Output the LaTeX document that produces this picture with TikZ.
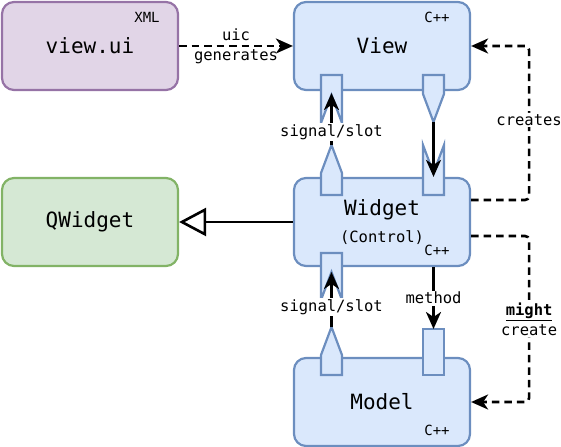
\documentclass[tikz,border=0pt]{standalone}
\usepackage{fontspec}
\setmonofont{DejaVu Sans Mono}
\usetikzlibrary{arrows.meta,calc}
\definecolor{qtBlueFill}{HTML}{DAE8FC}
\definecolor{qtBlueLine}{HTML}{6C8EBF}
\definecolor{uiFill}{HTML}{E1D5E7}
\definecolor{uiLine}{HTML}{9673A6}
\definecolor{baseFill}{HTML}{D5E8D4}
\definecolor{baseLine}{HTML}{82B366}
\tikzset{
  box/.style={draw, rounded corners=12bp, line width=2.2bp, minimum width=176bp,
    minimum height=88bp, inner sep=0pt, font=\ttfamily\fontsize{21bp}{25bp}\selectfont},
  cppbox/.style={box, fill=qtBlueFill, draw=qtBlueLine},
  xmlbox/.style={box, fill=uiFill, draw=uiLine},
  basebox/.style={box, fill=baseFill, draw=baseLine},
  bigtext/.style={inner sep=0pt, font=\ttfamily\fontsize{21bp}{25bp}\selectfont},
  tag/.style={inner sep=0pt, font=\ttfamily\fontsize{14bp}{16bp}\selectfont},
  edgelabel/.style={fill=white, inner sep=1.5bp, font=\ttfamily\fontsize{15.5bp}{20bp}\selectfont},
  port/.style={fill=qtBlueFill, draw=qtBlueLine, line width=2.2bp, line join=miter},
  conn/.style={line width=2.6bp, -{Stealth[length=17bp,width=15bp,inset=5bp]}},
  dashconn/.style={conn, dash pattern=on 7.5bp off 5bp, rounded corners=4bp},
  inherit/.style={line width=2.6bp, -{Triangle[open, fill=white, length=27bp, width=28bp]}}
}
\begin{document}
\begin{tikzpicture}[x=1bp, y=-1bp]
		%%%%% START %%%%%
		\useasboundingbox (0,0) rectangle (561,447);
		
		\node[xmlbox] (viewui) at (90,46) {view.ui};
		\node[cppbox] (view) at (382,46) {View};
		\node[basebox] (qwidget) at (90,222) {QWidget};
		\node[cppbox] (widget) at (382,222) {};
		\node[cppbox] (model) at (382,402) {Model};
		
		\node[tag] (viewuilang) at (147,17) {XML};
		\node[tag] (viewlang) at (437,17) {C++};
		\node[bigtext] (widgetname) at (382,210) {Widget};
		\node[edgelabel, fill=none, inner sep=0pt] (widgetrole) at (382,238) {(Control)};
		\node[tag] (widgetlang) at (437,250) {C++};
		\node[tag] (modellang) at (437,430) {C++};
		
		% ports
		\draw[port] (321,75) -- (342,75) -- (342,123) -- (331.5,95) -- (321,123) -- cycle;
		\draw[port] (423,75) -- (444,75) -- (444,94) -- (433.5,122) -- (423,94) -- cycle;
		\draw[port] (423,145) -- (433.5,173) -- (444,145) -- (444,195) -- (423,195) -- cycle;
		\draw[port] (321,195) -- (321,173) -- (331.5,145) -- (342,173) -- (342,195) -- cycle;
		\draw[port] (321,253) -- (342,253) -- (342,300) -- (331.5,272) -- (321,300) -- cycle;
		\draw[port] (321,375) -- (321,355) -- (331.5,327) -- (342,355) -- (342,375) -- cycle;
		\draw[port] (423,329) rectangle (444,375);
		
		\coordinate (viewsocket) at (331.5,93);
		\coordinate (viewplug) at (433.5,122);
		\coordinate (widgetplug) at (331.5,145);
		\coordinate (widgetsocket) at (331.5,272);
		\coordinate (modelplug) at (331.5,327);
		\coordinate (modelport) at (433.5,329);
		
		% connections
		\draw[conn] (widgetplug) -- node[edgelabel, pos=0.25] {signal/slot} (viewsocket);
		\draw[conn] (viewplug) -- (viewplug |- widget.north);
		\draw[conn] (modelplug) -- node[edgelabel, pos=0.36] {signal/slot} (widgetsocket);
		\draw[conn] (modelport |- widget.south) -- node[edgelabel] {method} (modelport);
		
		\draw[dashconn] (viewui) -- node[edgelabel, fill=none, align=center] {uic\\generates} (view);
		\draw[dashconn] ($(widget.east)+(0,-22)$) -- ++(58,0) |- node[edgelabel, pos=0.26] {creates} (view.east);
		\draw[dashconn] ($(widget.east)+(0,14)$) -- ++(58,0) |- node[edgelabel, pos=0.25, align=center] {\textbf{\underline{might}}\\create} (model.east);
		
		\draw[inherit] (widget) -- (qwidget);
		
		%%%%% END %%%%%
	\end{tikzpicture}
\end{document}
